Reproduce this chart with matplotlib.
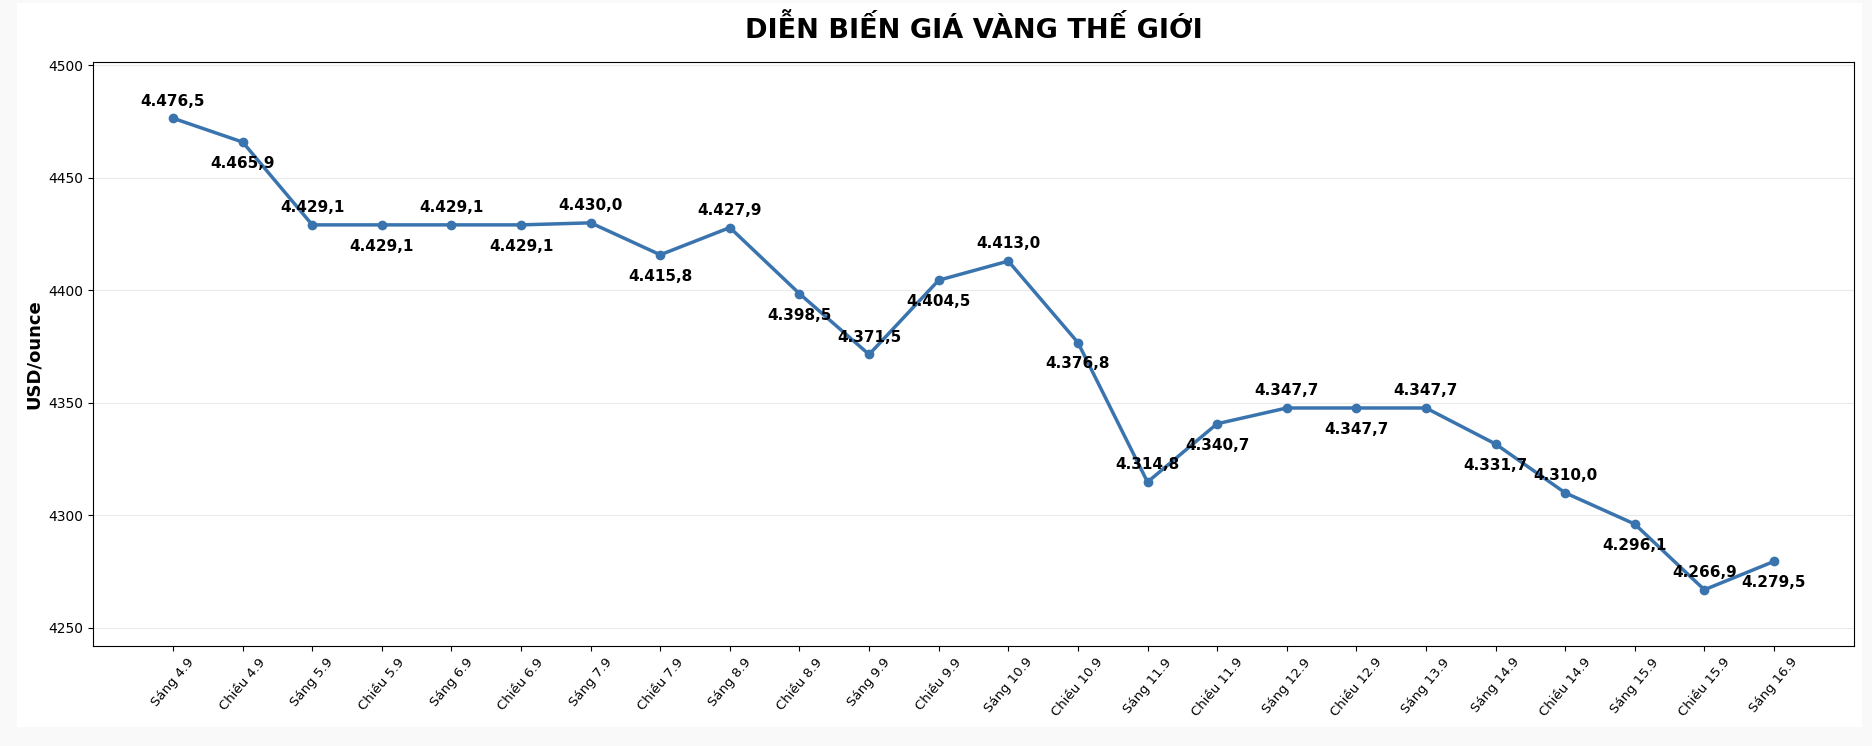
import matplotlib
matplotlib.use("Agg")
import matplotlib.pyplot as plt
from matplotlib.patches import Rectangle

# data
labels = ['Sáng 4.9', 'Chiều 4.9', 'Sáng 5.9', 'Chiều 5.9', 'Sáng 6.9', 'Chiều 6.9',
          'Sáng 7.9', 'Chiều 7.9', 'Sáng 8.9', 'Chiều 8.9', 'Sáng 9.9', 'Chiều 9.9',
          'Sáng 10.9', 'Chiều 10.9', 'Sáng 11.9', 'Chiều 11.9', 'Sáng 12.9', 'Chiều 12.9',
          'Sáng 13.9', 'Sáng 14.9', 'Chiều 14.9', 'Sáng 15.9', 'Chiều 15.9', 'Sáng 16.9']
prices = [4476.5, 4465.9, 4429.1, 4429.1, 4429.1, 4429.1,
          4430.0, 4415.8, 4427.9, 4398.5, 4371.5, 4404.5,
          4413.0, 4376.8, 4314.8, 4340.7, 4347.7, 4347.7,
          4347.7, 4331.7, 4310.0, 4296.1, 4266.9, 4279.5]

def fmt_vn(v):
    # 4476.5 -> 4.476,5
    s = f"{v:,.1f}"
    return s.replace(",", "X").replace(".", ",").replace("X", ".")

fig = plt.figure(figsize=(18.72, 7.46), dpi=100, facecolor='#f9f9f9')
fig.patches.append(Rectangle((17 / 1872, 1 - 727 / 746), (1862 - 17) / 1872, (727 - 3) / 746,
                             transform=fig.transFigure, facecolor='white',
                             edgecolor='none', zorder=-1))
ax = fig.add_axes([93 / 1872, 1 - 646 / 746, (1854 - 93) / 1872, (646 - 62) / 746])

x = list(range(len(labels)))
ax.plot(x, prices, color='#3a74ae', linewidth=2.5, marker='o', markersize=6)

# labels alternate above / below the points
for i, (xi, v) in enumerate(zip(x, prices)):
    if i % 2 == 0:
        ax.annotate(fmt_vn(v), (xi, v), xytext=(0, 7), textcoords='offset points',
                    ha='center', va='bottom', fontsize=11, fontweight='bold')
    else:
        ax.annotate(fmt_vn(v), (xi, v), xytext=(0, -10), textcoords='offset points',
                    ha='center', va='top', fontsize=11, fontweight='bold')

ax.set_ylim(min(prices) - 25, max(prices) + 25)
ax.set_xticks(x)
ax.set_xticklabels(labels, rotation=50, fontsize=9.5)
ax.tick_params(axis='y', labelsize=10)
ax.set_ylabel('USD/ounce', fontsize=13, fontweight='bold')
ax.grid(axis='y', color='#dddddd', alpha=0.6, linewidth=0.8)
ax.set_axisbelow(True)

fig.text(ax.get_position().x0 + ax.get_position().width / 2, 1 - 30 / 746,
         'DIỄN BIẾN GIÁ VÀNG THẾ GIỚI', ha='center', va='center',
         fontsize=19.5, fontweight='bold')

fig.savefig('out.png', dpi=100, facecolor=fig.get_facecolor())
